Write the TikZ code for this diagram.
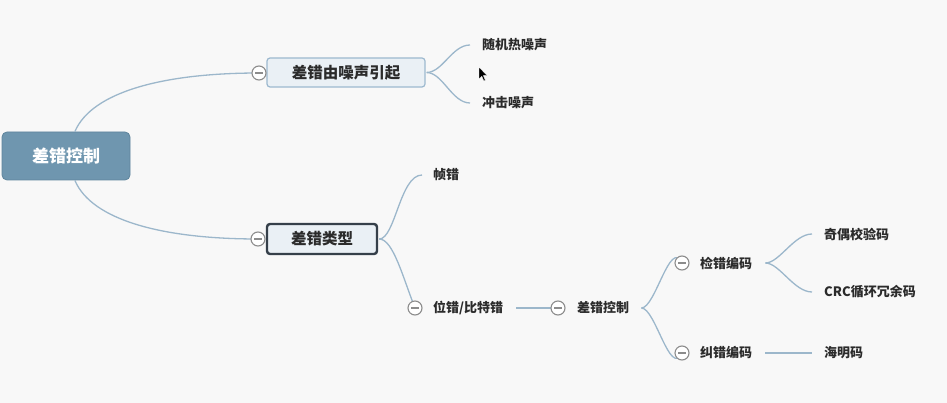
\documentclass[tikz,border=0pt]{standalone}
\usepackage{fontspec}
\setmainfont{Noto Sans CJK SC}
\definecolor{bg}{HTML}{F8F8F8}
\definecolor{rootfill}{HTML}{6F96AF}
\definecolor{rootedge}{HTML}{5E849C}
\definecolor{boxfill}{HTML}{EAF0F5}
\definecolor{boxedge}{HTML}{9DB9CF}
\definecolor{darkedge}{HTML}{36404A}
\definecolor{linec}{HTML}{9CB7CB}
\definecolor{txt}{HTML}{2B2B2B}
\definecolor{circ}{HTML}{8C8C8C}
\tikzset{
  conn/.style={draw=linec, line width=1.3pt},
  rootbox/.style={draw=rootedge, fill=rootfill, rounded corners=5pt, line width=0.8pt,
    minimum width=128, minimum height=48, text=white, font=\fontsize{17}{17}\selectfont\bfseries},
  lvlbox/.style={draw=boxedge, fill=boxfill, rounded corners=3pt, line width=1.2pt,
    minimum height=29, text=txt, font=\fontsize{15.5}{15.5}\selectfont\bfseries},
  lvlboxdark/.style={lvlbox, draw=darkedge, line width=2.4pt},
  leaf/.style={anchor=west, inner sep=0pt, text=txt, font=\fontsize{13}{13}\selectfont\bfseries},
  fold/.style={circle, draw=circ, fill=white, line width=1.1pt, minimum size=14, inner sep=0pt,
    path picture={\draw[circ, line width=1.1pt] ([xshift=3]path picture bounding box.west) -- ([xshift=-3]path picture bounding box.east);}},
}
\begin{document}
\begin{tikzpicture}[x=1pt,y=-1pt]
\fill[bg] (0,0) rectangle (947,403);
\useasboundingbox (0,0) rectangle (947,403);

% nodes
\node[rootbox] (root) at (66,156) {差错控制};
\node[lvlbox, minimum width=158] (noise) at (346,72.5) {差错由噪声引起};
\node[lvlboxdark, minimum width=110, minimum height=30] (type) at (322,239) {差错类型};

\node[leaf] (rand) at (482,45) {随机热噪声};
\node[leaf] (imp) at (482,103) {冲击噪声};
\node[leaf] (frame) at (433,175) {帧错};
\node[leaf] (bit) at (433,308) {位错/比特错};
\node[leaf] (ctrl) at (577,308) {差错控制};
\node[leaf] (det) at (700,263) {检错编码};
\node[leaf] (cor) at (700,353) {纠错编码};
\node[leaf] (par) at (824,234) {奇偶校验码};
\node[leaf] (crc) at (824,292) {CRC循环冗余码};
\node[leaf] (ham) at (824,353) {海明码};

% connectors
\coordinate (c1p) at (259,73);
\coordinate (c2p) at (258,239);
\coordinate (c3p) at (415,308);
\coordinate (c4p) at (558,308);
\coordinate (c5p) at (682,263);
\coordinate (c6p) at (682,353);

\draw[conn] (root.70) .. controls +(17,-40) and +(-95,0) .. (c1p);
\draw[conn] (root.-70) .. controls +(17,40) and +(-95,0) .. (c2p);

\draw[conn] ([xshift=1]noise.east) .. controls +(16,0) and +(-18,0) .. ([xshift=-12]rand.west);
\draw[conn] ([xshift=1]noise.east) .. controls +(16,0) and +(-18,0) .. ([xshift=-12]imp.west);

\draw[conn] ([xshift=1]type.east) .. controls +(16,0) and +(-22,0) .. ([xshift=-11]frame.west);
\draw[conn] ([xshift=1]type.east) .. controls +(14,0) and +(-12,-30) .. (c3p);

\draw[conn] ([xshift=13]bit.east) -- (c4p);

\draw[conn] ([xshift=12]ctrl.east) .. controls +(14,0) and +(-12,25) .. (c6p);
\draw[conn] ([xshift=12]ctrl.east) .. controls +(14,0) and +(-12,-25) .. (c5p);

\draw[conn] ([xshift=13]det.east) .. controls +(14,0) and +(-18,0) .. ([xshift=-12]par.west);
\draw[conn] ([xshift=13]det.east) .. controls +(14,0) and +(-18,0) .. ([xshift=-12]crc.west);
\draw[conn] ([xshift=13]cor.east) -- ([xshift=-12]ham.west);

% fold circles
\node[fold] (c1) at (c1p) {};
\node[fold] (c2) at (c2p) {};
\node[fold] (c3) at (c3p) {};
\node[fold] (c4) at (c4p) {};
\node[fold] (c5) at (c5p) {};
\node[fold] (c6) at (c6p) {};

% mouse pointer
\filldraw[fill=black, draw=white, line width=0.4pt]
  (479,67) -- (479,79) -- (481.8,76.4) -- (483.8,81) -- (485.4,80.3) -- (483.4,75.7) -- (487,75.5) -- cycle;
\end{tikzpicture}
\end{document}
